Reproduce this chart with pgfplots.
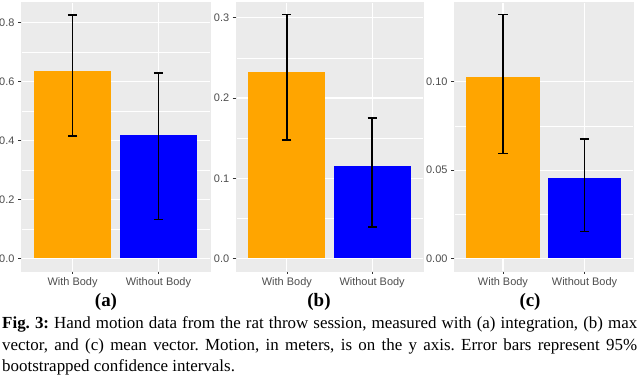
\documentclass[border=0pt]{standalone}
\usepackage{pgfplots}
\pgfplotsset{compat=1.18}
\usepackage{fontspec}
\setmainfont{Liberation Serif}
\newfontfamily\arial{Liberation Sans}
\definecolor{ggbg}{HTML}{EBEBEB}
\definecolor{ggtext}{HTML}{4D4D4D}
\definecolor{ggtick}{HTML}{333333}
\definecolor{ggorange}{HTML}{FFA500}
\definecolor{ggblue}{HTML}{0000FF}
\pgfplotsset{
  ggp/.style={
    scale only axis,
    anchor=south west,
    height=268.4bp,
    xmin=0.4, xmax=2.6,
    xtick={1,2}, xticklabels={With Body,Without Body},
    axis background/.style={fill=ggbg},
    axis line style={draw=ggbg, line width=0.1bp},
    ymajorgrids=true, xmajorgrids=true, yminorgrids=true,
    minor y tick num=1,
    major grid style={draw=white, line width=1.1bp},
    minor grid style={draw=white, line width=0.55bp},
    tick align=outside, tick pos=left,
    major tick length=3bp, minor tick length=0pt,
    major tick style={ggtick, line width=0.7bp},
    ticklabel style={font=\arial\fontsize{11}{13}\selectfont, text=ggtext},
    /pgf/number format/assume math mode=true,
    ybar, bar width=0.9, bar shift=0pt,
    clip=false,
  },
  ggbar/.style={
    fill=#1, draw=none,
    error bars/.cd, y dir=both, y explicit,
    error bar style={draw=black, line width=1.8bp},
    error mark options={draw=black, line width=1.8bp, mark size=4.6bp, rotate=90},
  },
}
\begin{document}
\begin{tikzpicture}
\useasboundingbox (0bp,0bp) rectangle (640bp,381bp);
% (a)
\begin{axis}[ggp, at={(21bp,110.3bp)}, width=189bp,
  ymin=-0.042, ymax=0.869, ytick={0,0.2,0.4,0.6,0.8},
  yticklabel style={/pgf/number format/.cd, fixed, fixed zerofill, precision=1}]
\addplot[ggbar=ggorange] coordinates {(1,0.636) += (0,0.190) -= (0,0.220)};
\addplot[ggbar=ggblue] coordinates {(2,0.419) += (0,0.210) -= (0,0.287)};
\end{axis}
% (b)
\begin{axis}[ggp, at={(235.7bp,110.3bp)}, width=187.6bp,
  ymin=-0.0152, ymax=0.3192, ytick={0,0.1,0.2,0.3},
  yticklabel style={/pgf/number format/.cd, fixed, fixed zerofill, precision=1}]
\addplot[ggbar=ggorange] coordinates {(1,0.232) += (0,0.072) -= (0,0.084)};
\addplot[ggbar=ggblue] coordinates {(2,0.115) += (0,0.060) -= (0,0.076)};
\end{axis}
% (c)
\begin{axis}[ggp, at={(454bp,110.3bp)}, width=179.5bp,
  ymin=-0.0069, ymax=0.1449, ytick={0,0.05,0.10},
  yticklabel style={/pgf/number format/.cd, fixed, fixed zerofill, precision=2}]
\addplot[ggbar=ggorange] coordinates {(1,0.1024) += (0,0.0356) -= (0,0.0430)};
\addplot[ggbar=ggblue] coordinates {(2,0.0453) += (0,0.0225) -= (0,0.0300)};
\end{axis}
% panel labels
\node[anchor=base, inner sep=0pt, font=\fontsize{19}{22}\selectfont\bfseries] at (106bp,74.3bp) {(a)};
\node[anchor=base, inner sep=0pt, font=\fontsize{19}{22}\selectfont\bfseries] at (319bp,74.3bp) {(b)};
\node[anchor=base, inner sep=0pt, font=\fontsize{19}{22}\selectfont\bfseries] at (530bp,74.3bp) {(c)};
% caption
\node[anchor=north west, inner sep=0pt, text width=635bp, align=justify,
      font=\fontsize{17}{21.5}\selectfont\frenchspacing] at (2bp,64.5bp)
{\textbf{Fig. 3:} Hand motion data from the rat throw session, measured with (a) integration, (b) max\linebreak
vector, and (c) mean vector. Motion, in meters, is on the y axis. Error bars represent 95\%\linebreak
bootstrapped confidence intervals.};
\end{tikzpicture}
\end{document}
